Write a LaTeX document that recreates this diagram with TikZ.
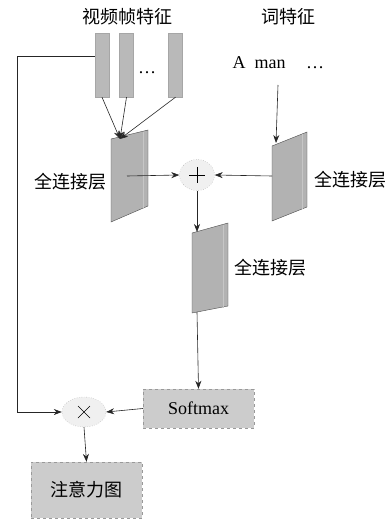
\documentclass[tikz,border=0pt]{standalone}
\usepackage{fontspec}
\setmainfont{Liberation Serif}
\newfontfamily\cjk{Noto Sans CJK SC}
\usetikzlibrary{arrows.meta,shapes.geometric}
\tikzset{
  lbl/.style={font=\cjk\fontsize{18}{21}\selectfont},
  stripe/.style={draw=gray!70,fill=gray!55,minimum width=14pt,minimum height=64pt,inner sep=0pt},
  slabface/.style={draw=gray!60!black,fill=gray!60,line width=0.4pt},
  opnode/.style={ellipse,draw=gray!80,dotted,fill=gray!12,inner sep=0pt},
  graybox/.style={draw=gray!80,dashed,fill=gray!40,inner sep=0pt},
  arr/.style={-{Stealth[length=8pt,width=6pt]},draw=black!85,line width=0.6pt}
}
% slab: name, left x, right x, top-left y, top-right y, bottom-left y, bottom-right y
\newcommand{\slab}[7]{%
  \draw[slabface] (#2,#4) -- (#3,#5) -- (#3,#7) -- (#2,#6) -- cycle;
  \draw[gray!45,line width=0.4pt] (#3-5,#5+2) -- (#3-5,#7+2);
  \coordinate (#1) at ({(#2+#3)/2},{(#4+#5+#6+#7)/4});
}
\begin{document}
\begin{tikzpicture}[x=1pt,y=-1pt]
\useasboundingbox (0,0) rectangle (389,521);
% titles
\node[lbl] (tv) at (127,17) {视频帧特征};
\node[lbl] (tw) at (288,17) {词特征};
\node[font=\fontsize{18}{21}\selectfont] (words) at (259,63) {A\ \ man};
\node[font=\fontsize{18}{21}\selectfont] (wdots) at (315,68) {\dots};
% frame features
\foreach \x/\n in {102/v1,126.5/v2,175.5/v3} {
  \node[stripe] (\n) at (\x,65) {};
}
\node[font=\fontsize{18}{21}\selectfont] (vdots) at (147,73) {\dots};
% fully connected layers
\slab{fc1}{111}{148}{139}{130}{222}{206}
\slab{fc2}{272}{307}{146}{132}{221}{207}
\slab{fc3}{192}{228}{233}{223}{313}{306}
\coordinate (fc1top) at (120,139);
\coordinate (fc1r) at (127,176);
\coordinate (fc2top) at (276,143);
\coordinate (fc2l) at (272,176);
\coordinate (fc3top) at (197,232);
\coordinate (fc3bot) at (197,312);
\node[lbl] (l1) at (70,182) {全连接层};
\node[lbl] (l2) at (350,180) {全连接层};
\node[lbl] (l3) at (270,268) {全连接层};
% operators and boxes
\node[opnode,minimum width=35pt,minimum height=31pt] (plus) at (197,175) {};
\draw[line width=0.5pt] (plus.center) ++(-8,0) -- ++(16,0) (plus.center) ++(0,-8) -- ++(0,16);
\node[opnode,minimum width=44pt,minimum height=30pt] (times) at (84,412) {};
\draw[line width=0.5pt] (times.center) ++(-6,-6) -- ++(12,12) (times.center) ++(-6,6) -- ++(12,-12);
\node[graybox,minimum width=111pt,minimum height=39pt,font=\fontsize{18}{21}\selectfont] (soft) at (198.5,408.5) {Softmax};
\node[graybox,minimum width=111pt,minimum height=56pt,lbl] (map) at (86.5,490) {注意力图};
% connectors
\foreach \n in {v1,v2,v3} {
  \draw[arr] (\n.south) -- (fc1top);
}
\coordinate (wtop) at (278,85);
\draw[arr] (wtop) -- (fc2top);
\draw[arr] (fc1r) -- (plus.west);
\draw[arr] (fc2l) -- (plus.east);
\draw[arr] (plus.south) -- (fc3top);
\draw[arr] (fc3bot) -- (soft.north);
\draw[arr] (soft.west) -- (times.east);
\draw[arr] (times.south) -- (map.north);
\coordinate (corner) at (17,56);
\draw[arr] ([yshift=9pt]v1.west) -- (corner) |- (times.west);
\end{tikzpicture}
\end{document}
